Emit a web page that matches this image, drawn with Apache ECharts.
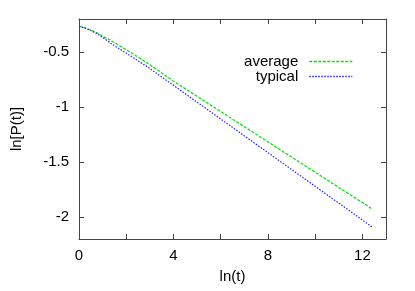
<!DOCTYPE html>
<html>
<head>
<meta charset="utf-8">
<script src="https://cdn.jsdelivr.net/npm/echarts@6/dist/echarts.min.js"></script>
<style>
html,body{margin:0;padding:0;background:#fff;}
#chart{width:415px;height:291px;}
</style>
</head>
<body>
<div id="chart"></div>
<script>
var tValues = [0,0.25,0.5,0.75,1,1.5,2,2.5,3,3.5,4,5,6,7,8,9,10,11,12,12.43];
var average = [-0.265,-0.28,-0.3,-0.325,-0.355,-0.415,-0.48,-0.545,-0.615,-0.69,-0.765,-0.903,-1.041,-1.179,-1.317,-1.455,-1.593,-1.731,-1.869,-1.93];
var typical = [-0.265,-0.283,-0.305,-0.332,-0.368,-0.443,-0.51,-0.58,-0.65,-0.727,-0.803,-0.956,-1.109,-1.262,-1.415,-1.568,-1.721,-1.874,-2.027,-2.094];
var xLabelTicks = [0,4,8,12];
var xMinorTicks = [0,2,4,6,8,10,12];
var yTicks = [-2,-1.5,-1,-0.5];

function pairs(xs, ys){ return xs.map(function(x,i){ return [x, ys[i]]; }); }

var font = 'Liberation Sans, Arial, Helvetica, sans-serif';
var fs = 15;
var axisColor = '#444';
var green = '#00e000', blue = '#2020ff';
function xAx(pos, show){
  return {
    type:'value', position:pos, min:0, max:13,
    axisLine:{show:true, onZero:false, lineStyle:{color:axisColor, width:1}},
    axisTick:{show:true, inside:true, length:5, customValues:xMinorTicks, lineStyle:{color:axisColor}},
    axisLabel:{show:show, customValues:xLabelTicks, color:'#000', fontFamily:font, fontSize:fs, margin:9},
    splitLine:{show:false},
    name: show ? 'ln(t)' : '', nameLocation:'middle', nameGap:30,
    nameTextStyle:{color:'#000', fontFamily:font, fontSize:fs}
  };
}
function yAx(pos, show){
  return {
    type:'value', position:pos, min:-2.2, max:-0.2,
    axisLine:{show:true, onZero:false, lineStyle:{color:axisColor, width:1}},
    axisTick:{show:true, inside:true, length:5, customValues:yTicks, lineStyle:{color:axisColor}},
    axisLabel:{show:show, customValues:yTicks, color:'#000', fontFamily:font, fontSize:fs, margin:10},
    splitLine:{show:false},
    name: show ? 'ln[P(t)]' : '', nameLocation:'middle', nameGap:55,
    nameTextStyle:{color:'#000', fontFamily:font, fontSize:fs}
  };
}

var chart = echarts.init(document.getElementById('chart'), null, {renderer:'canvas'});
chart.setOption({
  animation:false,
  backgroundColor:'#fff',
  grid:{left:79, right:29, top:19, bottom:52, containLabel:false},
  xAxis:[xAx('bottom', true), xAx('top', false)],
  yAxis:[yAx('left', true), yAx('right', false)],
  legend:{
    orient:'vertical', right:62, top:54, align:'right', padding:0,
    itemWidth:43, itemHeight:14, itemGap:0,
    itemStyle:{opacity:0},
    textStyle:{color:'#000', fontFamily:font, fontSize:fs, lineHeight:14, padding:[0,6,0,0]},
    data:[
      {name:'average', lineStyle:{color:green, width:1.5, type:[3,1.5]}},
      {name:'typical', lineStyle:{color:blue, width:1.5, type:[1.5,1.5]}}
    ]
  },
  series:[
    {name:'average', type:'line', data:pairs(tValues, average), showSymbol:false, symbol:'none',
     lineStyle:{color:green, width:1.2, type:[3,1.5]}, itemStyle:{color:green}},
    {name:'typical', type:'line', data:pairs(tValues, typical), showSymbol:false, symbol:'none',
     lineStyle:{color:blue, width:1.2, type:[1.5,1.5]}, itemStyle:{color:blue}}
  ]
});
</script>
</body>
</html>
